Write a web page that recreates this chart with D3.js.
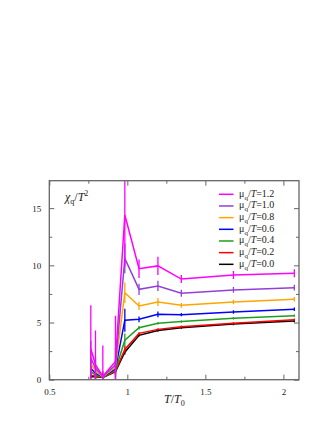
<!DOCTYPE html>
<html>
<head>
<meta charset="utf-8">
<script src="https://cdn.jsdelivr.net/npm/d3@7"></script>
<style>
  body { margin: 0; background: #fff; }
  svg text { font-family: "Liberation Serif", "DejaVu Serif", serif; fill: #222; }
</style>
</head>
<body>
<script>
"use strict";

// T/T0 values of the lattice points
const temps = [0.766, 0.796, 0.843, 0.924, 0.984, 1.075, 1.196, 1.346, 1.68, 2.07];

// chi_q/T^2 for each mu_q/T, with errors
const chi12 = [2.7, 1.3, 0.3, 1.6, 14.4, 9.7, 9.95, 8.8, 9.15, 9.3];
const err12 = [3.8, 3.0, 2.7, 4.0, 4.5, 0.8, 0.8, 0.35, 0.35, 0.35];
const chi10 = [1.9, 1.0, 0.28, 1.3, 10.6, 7.9, 8.2, 7.56, 7.85, 8.05];
const err10 = [1.5, 1.0, 0.5, 1.5, 1.3, 0.5, 0.45, 0.3, 0.25, 0.25];
const chi08 = [1.4, 0.75, 0.26, 1.1, 7.6, 6.45, 6.8, 6.5, 6.8, 7.03];
const err08 = [1.0, 0.7, 0.4, 1.0, 0.9, 0.35, 0.35, 0.2, 0.2, 0.2];
const chi06 = [1.0, 0.55, 0.24, 0.95, 5.2, 5.28, 5.72, 5.69, 5.92, 6.16];
const err06 = [0.7, 0.5, 0.3, 0.7, 1.0, 0.25, 0.25, 0.15, 0.15, 0.15];
const chi04 = [0.7, 0.4, 0.22, 0.85, 3.45, 4.55, 4.93, 5.08, 5.37, 5.6];
const err04 = [0.4, 0.3, 0.2, 0.4, 0.6, 0.15, 0.1, 0.1, 0.1, 0.1];
const chi02 = [0.4, 0.3, 0.2, 0.75, 2.65, 4.05, 4.4, 4.64, 4.93, 5.25];
const err02 = [0.2, 0.2, 0.1, 0.2, 0.3, 0.1, 0.1, 0.1, 0.1, 0.1];
const chi00 = [0.26, 0.25, 0.2, 0.7, 2.4, 3.88, 4.3, 4.55, 4.87, 5.13];
const err00 = [0.15, 0.1, 0.1, 0.15, 0.2, 0.1, 0.1, 0.1, 0.1, 0.1];

const muLabels = ["1.2", "1.0", "0.8", "0.6", "0.4", "0.2", "0.0"];
const colors = ["#ff00ff", "#9040d8", "#ffa500", "#0000ff", "#1e9e1e", "#ff0000", "#000000"];
const xTicks = [0.5, 1, 1.5, 2];
const xMinor = [0.75, 1.25, 1.75];
const yTicks = [0, 5, 10, 15];
const yMinor = [2.5, 7.5, 12.5];

const series = [
  [chi12, err12], [chi10, err10], [chi08, err08], [chi06, err06],
  [chi04, err04], [chi02, err02], [chi00, err00]
];

const W = 332, H = 430;
const pLeft = 49.3, pRight = 299, pTop = 180.7, pBottom = 379.7;

const svg = d3.select("body").append("svg")
  .attr("width", W).attr("height", H);

const x = d3.scaleLinear().domain([0.5, 2.1]).range([pLeft, pRight]);
const y = d3.scaleLinear().domain([0, 17.4]).range([pBottom, pTop]);

svg.append("clipPath").attr("id", "plot")
  .append("rect")
  .attr("x", pLeft).attr("y", pTop)
  .attr("width", pRight - pLeft).attr("height", pBottom - pTop);

const frameCol = "#666";

// axes, ticks pointing inward on all four sides
function styleAxis(g) {
  g.select(".domain").remove();
  g.selectAll(".tick line").attr("stroke", frameCol).attr("stroke-width", 1);
  g.selectAll("text").attr("font-size", 9).attr("fill", "#222");
}

svg.append("g").attr("transform", "translate(0," + pBottom + ")")
  .call(d3.axisBottom(x).tickValues(xTicks).tickSize(-5).tickPadding(9)
    .tickFormat(d => String(d)))
  .call(styleAxis);
svg.append("g").attr("transform", "translate(0," + pBottom + ")")
  .call(d3.axisBottom(x).tickValues(xMinor).tickSize(-3).tickFormat(""))
  .call(styleAxis);
svg.append("g").attr("transform", "translate(0," + pTop + ")")
  .call(d3.axisTop(x).tickValues(xTicks).tickSize(-5).tickFormat(""))
  .call(styleAxis);
svg.append("g").attr("transform", "translate(0," + pTop + ")")
  .call(d3.axisTop(x).tickValues(xMinor).tickSize(-3).tickFormat(""))
  .call(styleAxis);

svg.append("g").attr("transform", "translate(" + pLeft + ",0)")
  .call(d3.axisLeft(y).tickValues(yTicks).tickSize(-5).tickPadding(8))
  .call(styleAxis);
svg.append("g").attr("transform", "translate(" + pLeft + ",0)")
  .call(d3.axisLeft(y).tickValues(yMinor).tickSize(-3).tickFormat(""))
  .call(styleAxis);
svg.append("g").attr("transform", "translate(" + pRight + ",0)")
  .call(d3.axisRight(y).tickValues(yTicks).tickSize(-5).tickFormat(""))
  .call(styleAxis);
svg.append("g").attr("transform", "translate(" + pRight + ",0)")
  .call(d3.axisRight(y).tickValues(yMinor).tickSize(-3).tickFormat(""))
  .call(styleAxis);

// data, drawn from 0.0 up so magenta sits on top
const plot = svg.append("g").attr("clip-path", "url(#plot)");
const line = d3.line().x((d, i) => x(temps[i])).y(d => y(d));

series.slice().reverse().forEach((s, k) => {
  const idx = series.length - 1 - k;
  const col = colors[idx];
  const vals = s[0], errs = s[1];
  const g = plot.append("g");
  g.append("path").datum(vals)
    .attr("d", line).attr("fill", "none")
    .attr("stroke", col).attr("stroke-width", 1.5);
  g.selectAll("line.err").data(vals).enter().append("line")
    .attr("x1", (d, i) => x(temps[i])).attr("x2", (d, i) => x(temps[i]))
    .attr("y1", (d, i) => y(d - errs[i])).attr("y2", (d, i) => y(d + errs[i]))
    .attr("stroke", col).attr("stroke-width", 1.3);
});

// frame
svg.append("rect")
  .attr("x", pLeft).attr("y", pTop)
  .attr("width", pRight - pLeft).attr("height", pBottom - pTop)
  .attr("fill", "none").attr("stroke", frameCol).attr("stroke-width", 1.3);

// axis titles
const yl = svg.append("text").attr("x", 65).attr("y", 201).attr("font-size", 12);
yl.append("tspan").attr("font-style", "italic").text("χ");
yl.append("tspan").attr("font-size", 8).attr("dy", 3).text("q");
yl.append("tspan").attr("dy", -3).text("/");
yl.append("tspan").attr("font-style", "italic").text("T");
yl.append("tspan").attr("font-size", 8).attr("dy", -5).text("2");

const xl = svg.append("text").attr("x", 164).attr("y", 403).attr("font-size", 12);
xl.append("tspan").attr("font-style", "italic").text("T");
xl.append("tspan").text("/");
xl.append("tspan").attr("font-style", "italic").text("T");
xl.append("tspan").attr("font-size", 8).attr("dy", 3).text("0");

// legend
const leg = svg.append("g");
muLabels.forEach((m, i) => {
  const ly = 194.3 + i * 11.67;
  leg.append("line")
    .attr("x1", 219).attr("x2", 233.5).attr("y1", ly).attr("y2", ly)
    .attr("stroke", colors[i]).attr("stroke-width", 1.5);
  const t = leg.append("text").attr("x", 239).attr("y", ly + 2.5).attr("font-size", 10);
  t.append("tspan").text("μ");
  t.append("tspan").attr("font-size", 7).attr("dy", 3).text("q");
  t.append("tspan").attr("dy", -3).text("/");
  t.append("tspan").attr("font-style", "italic").text("T");
  t.append("tspan").text("=" + m);
});
</script>
</body>
</html>
